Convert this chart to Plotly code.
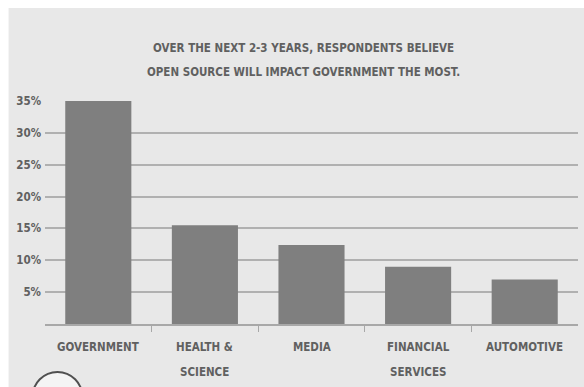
import plotly.graph_objects as go

categories = ["GOVERNMENT", "HEALTH &<br>SCIENCE", "MEDIA", "FINANCIAL<br>SERVICES", "AUTOMOTIVE"]
values = [35, 15.5, 12.4, 9, 7]
y_ticks = [5, 10, 15, 20, 25, 30, 35]
y_tick_labels = ["5%", "10%", "15%", "20%", "25%", "30%", "35%"]
title_lines = ["OVER THE NEXT 2-3 YEARS, RESPONDENTS BELIEVE", "OPEN SOURCE WILL IMPACT GOVERNMENT THE MOST."]

FONT = "DejaVu Sans Condensed, Liberation Sans Narrow, sans-serif"
TXT = "#606060"
W, H = 584, 387
L, R, T, B = 44.5, 5.5, 101, 63
pw, ph = W - L - R, H - T - B

def px_x(x):
    return (x - L) / pw

def px_y(y):
    return (H - B - y) / ph

xidx = list(range(len(categories)))

fig = go.Figure()
fig.add_trace(go.Bar(x=xidx, y=values, marker=dict(color="#7f7f7f", line=dict(width=0)),
                     width=0.62, hoverinfo="skip"))

annotations = []
for i, c in enumerate(categories):
    for j, line in enumerate(c.split("<br>")):
        annotations.append(dict(x=i, xref="x", y=0, yref="paper", yshift=-23 - 25 * j,
                                text=line, showarrow=False, yanchor="middle", xanchor="center",
                                font=dict(family=FONT, size=11.5, color=TXT, weight="bold")))
for j, line in enumerate(title_lines):
    annotations.append(dict(x=px_x(303), xref="paper", y=px_y(48 + 24 * j), yref="paper",
                            text=line, showarrow=False,
                            yanchor="middle", xanchor="center", align="center",
                            font=dict(family=FONT, size=11.5, color=TXT, weight="bold")))

shapes = [
    dict(type="rect", xref="paper", yref="paper", x0=px_x(8), x1=px_x(590), y0=px_y(8), y1=px_y(400),
         fillcolor="#e8e8e8", line=dict(width=0), layer="below"),
    dict(type="circle", xref="paper", yref="paper", x0=px_x(32), x1=px_x(82), y0=px_y(372), y1=px_y(422),
         fillcolor="#f4f4f4", line=dict(color="#505050", width=2), layer="above"),
]

fig.update_layout(
    width=W, height=H, margin=dict(l=L, r=R, t=T, b=B, pad=0),
    paper_bgcolor="white", plot_bgcolor="rgba(0,0,0,0)",
    showlegend=False, bargap=0.38,
    annotations=annotations, shapes=shapes,
    xaxis=dict(range=[-0.5, len(categories) - 0.5], showgrid=False, zeroline=False,
               showticklabels=False, tickvals=[0.5, 1.5, 2.5, 3.5], ticks="outside",
               ticklen=6, tickwidth=1, tickcolor="#a8a8a8",
               showline=True, linecolor="#a8a8a8", linewidth=2, fixedrange=True),
    yaxis=dict(range=[0, 35], tickvals=y_ticks, ticktext=y_tick_labels,
               showgrid=True, gridcolor="#b0b0b0", gridwidth=2, zeroline=False,
               showline=False, ticks="", ticklabelstandoff=3,
               tickfont=dict(family=FONT, size=11.5, color=TXT, weight="bold"),
               fixedrange=True),
)

fig.write_html("out.html")
